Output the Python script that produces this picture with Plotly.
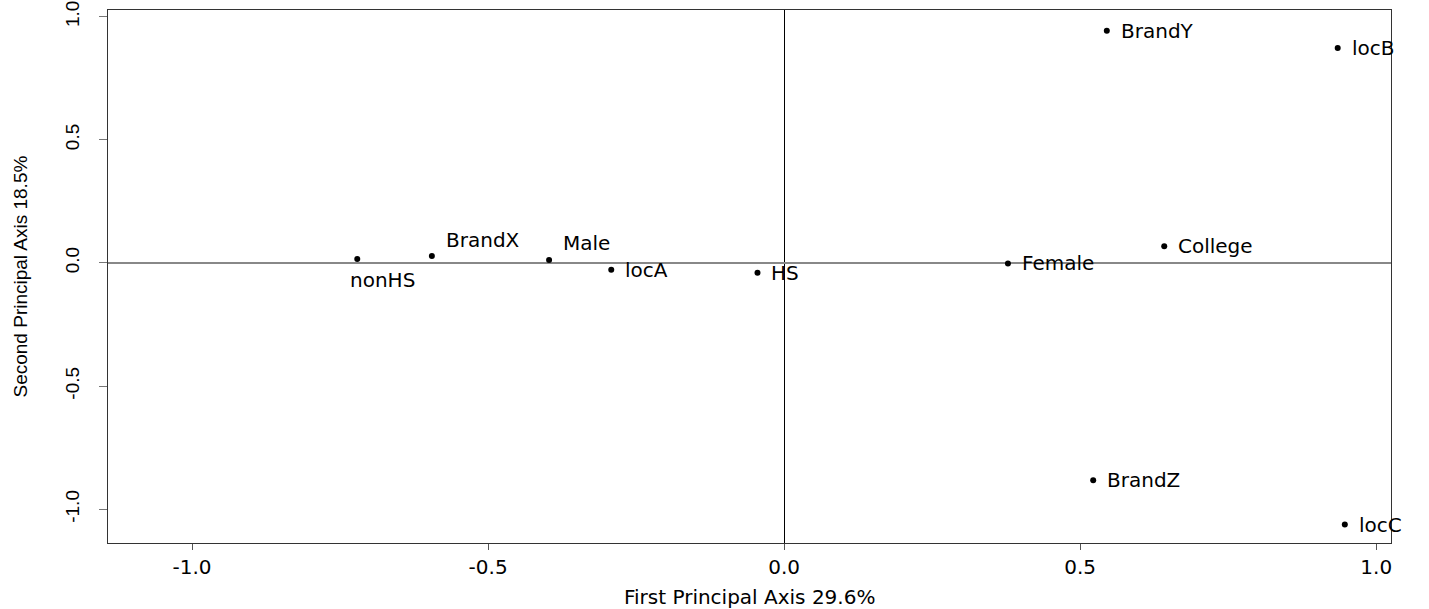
import plotly.graph_objects as go

# ---- data ----
labels = ["nonHS", "BrandX", "Male", "locA", "HS", "Female", "College",
          "BrandY", "locB", "BrandZ", "locC"]
dim1 = [-0.721, -0.595, -0.397, -0.292, -0.045, 0.378, 0.642,
        0.545, 0.935, 0.522, 0.947]
dim2 = [0.016, 0.028, 0.012, -0.028, -0.040, -0.002, 0.068,
        0.943, 0.873, -0.882, -1.062]
tick_vals = [-1.0, -0.5, 0.0, 0.5, 1.0]
tick_text = ["-1.0", "-0.5", "0.0", "0.5", "1.0"]
x_title = "First Principal Axis 29.6%"
y_title = "Second Principal Axis 18.5%"

# label placement (style): (xshift, yshift, xanchor)
label_style = {
    "nonHS": (25, -21, "center"),
    "BrandX": (12, 16, "left"),
    "Male": (12, 17, "left"),
}
default_style = (12, 0, "left")

hfont = dict(family="DejaVu Sans, Liberation Sans, Arial", size=20, color="black")
vfont = dict(family="Liberation Sans, Arial", size=19, color="black")

fig = go.Figure()
fig.add_trace(go.Scatter(
    x=dim1, y=dim2, mode="markers",
    marker=dict(color="black", size=6),
    hoverinfo="text", text=labels, showlegend=False,
))

for lab, xv, yv in zip(labels, dim1, dim2):
    xs, ys, xa = label_style.get(lab, default_style)
    fig.add_annotation(x=xv, y=yv, text=lab, showarrow=False,
                       xshift=xs, yshift=ys, xanchor=xa, yanchor="middle",
                       font=hfont)

# axis titles
fig.add_annotation(xref="paper", yref="paper", x=0.5, y=0, yshift=-54,
                   text=x_title, showarrow=False, xanchor="center",
                   yanchor="middle", font=hfont)
fig.add_annotation(xref="paper", yref="paper", x=0, y=0.5, xshift=-88,
                   text=y_title, showarrow=False, textangle=-90,
                   xanchor="center", yanchor="middle", font=vfont)

fig.update_layout(
    width=1429, height=609,
    margin=dict(l=108, r=38, t=10, b=66),
    paper_bgcolor="white", plot_bgcolor="white",
    xaxis=dict(
        range=[-1.142, 1.025], tickvals=tick_vals, ticktext=tick_text,
        showgrid=False, zeroline=True, zerolinecolor="black", zerolinewidth=1,
        showline=True, mirror=True, linecolor="#333333", linewidth=1,
        ticks="outside", ticklen=6, tickcolor="#555555",
        tickfont=hfont, ticklabelstandoff=0, automargin=False,
        ticklabeloverflow="allow",
    ),
    yaxis=dict(
        range=[-1.137, 1.027], tickvals=tick_vals, ticktext=tick_text,
        showgrid=False, zeroline=True, zerolinecolor="#888888", zerolinewidth=1.5,
        showline=True, mirror=True, linecolor="#333333", linewidth=1,
        ticks="outside", ticklen=8, tickcolor="#777777",
        tickfont=vfont, tickangle=-90, ticklabelstandoff=12, automargin=False,
        ticklabeloverflow="allow",
    ),
)

fig.write_html("out.html", config={"displayModeBar": False},
               post_script="document.body.style.margin='0';document.body.style.overflow='hidden';")
